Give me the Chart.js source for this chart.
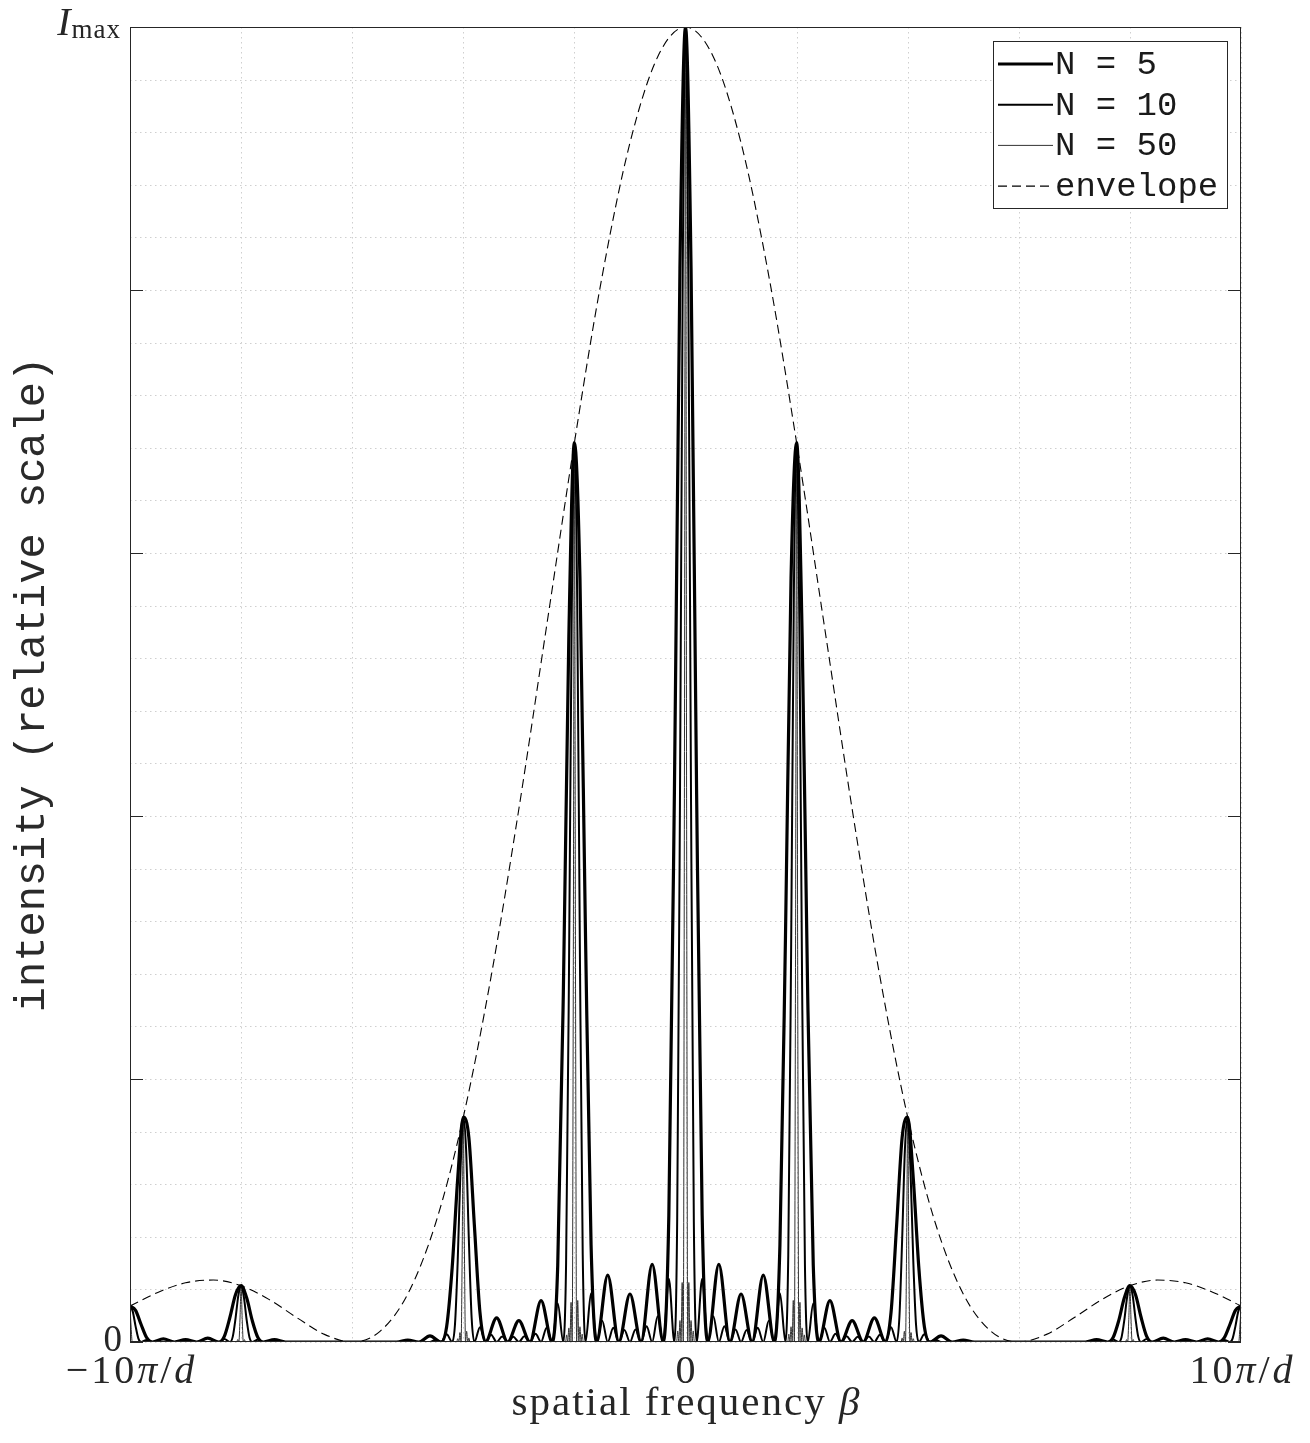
<!DOCTYPE html>
<html>
<head>
<meta charset="utf-8">
<script src="https://cdn.jsdelivr.net/npm/chart.js@4.4.1/dist/chart.umd.min.js"></script>
<style>
  html, body { margin: 0; padding: 0; background: #fff; }
</style>
</head>
<body>
<canvas id="chart" width="1310" height="1443"></canvas>
<script>
// beta in units of pi/d, intensity relative to Imax
const n5 = [
  [-10, 0.0274], [-9.9, 0.0241], [-9.8, 0.0133], [-9.7, 0.0033], [-9.6, 0], [-9.4, 0.0024], [-9.2, 0],
  [-9, 0.0018], [-8.8, 0], [-8.6, 0.0029], [-8.4, 0], [-8.3, 0.0045], [-8.2, 0.019], [-8.1, 0.0361],
  [-8, 0.0428], [-7.9, 0.0336], [-7.8, 0.0164], [-7.7, 0.0036], [-7.6, 0], [-7.4, 0.0018], [-7.2, 0],
  [-5.2, 0], [-5, 0.0015], [-4.8, 0], [-4.6, 0.0047], [-4.4, 0], [-4.3, 0.0116], [-4.2, 0.0567],
  [-4.1, 0.1247], [-4, 0.171], [-3.9, 0.1556], [-3.8, 0.0883], [-3.7, 0.0225], [-3.6, 0], [-3.4, 0.0184],
  [-3.2, 0], [-3, 0.0162], [-2.8, 0], [-2.6, 0.0315], [-2.4, 0], [-2.3, 0.0583], [-2.2, 0.2635],
  [-2.1, 0.5367], [-2, 0.6839], [-1.9, 0.5809], [-1.8, 0.3087], [-1.7, 0.074], [-1.6, 0], [-1.4, 0.0509],
  [-1.2, 0], [-1, 0.0365], [-0.8, 0], [-0.6, 0.0591], [-0.4, 0], [-0.3, 0.0962], [-0.2, 0.4174],
  [-0.1, 0.8165], [0, 1], [0.1, 0.8165], [0.2, 0.4174], [0.3, 0.0962], [0.4, 0], [0.6, 0.0591],
  [0.8, 0], [1, 0.0365], [1.2, 0], [1.4, 0.0509], [1.6, 0], [1.7, 0.074], [1.8, 0.3087], [1.9, 0.5809],
  [2, 0.6839], [2.1, 0.5367], [2.2, 0.2635], [2.3, 0.0583], [2.4, 0], [2.6, 0.0315], [2.8, 0],
  [3, 0.0162], [3.2, 0], [3.4, 0.0184], [3.6, 0], [3.7, 0.0225], [3.8, 0.0883], [3.9, 0.1556],
  [4, 0.171], [4.1, 0.1247], [4.2, 0.0567], [4.3, 0.0116], [4.4, 0], [4.6, 0.0047], [4.8, 0],
  [5, 0.0015], [5.2, 0], [7.2, 0], [7.4, 0.0018], [7.6, 0], [7.7, 0.0036], [7.8, 0.0164], [7.9, 0.0336],
  [8, 0.0428], [8.1, 0.0361], [8.2, 0.019], [8.3, 0.0045], [8.4, 0], [8.6, 0.0029], [8.8, 0],
  [9, 0.0018], [9.2, 0], [9.4, 0.0024], [9.6, 0], [9.7, 0.0033], [9.8, 0.0133], [9.9, 0.0241], [10, 0.0274]
]

const n10 = [
  [-10, 0.0274], [-9.95, 0.0231], [-9.9, 0.0121], [-9.85, 0.0028], [-9.8, 0], [-9.7, 0.0016], [-9.6, 0],
  [-8.4, 0], [-8.3, 0.0022], [-8.2, 0], [-8.15, 0.0041], [-8.1, 0.018], [-8.05, 0.0353], [-8, 0.0428],
  [-7.95, 0.0341], [-7.9, 0.0168], [-7.85, 0.0037], [-7.8, 0], [-7.7, 0.0018], [-7.6, 0],
  [-4.6, 0], [-4.5, 0.0018], [-4.4, 0], [-4.3, 0.0058], [-4.2, 0], [-4.15, 0.0132], [-4.1, 0.0624],
  [-4.05, 0.1313], [-4, 0.171], [-3.95, 0.1467], [-3.9, 0.0778], [-3.85, 0.0184], [-3.8, 0],
  [-3.7, 0.0113], [-3.6, 0], [-3.5, 0.0056], [-3.4, 0], [-3.3, 0.0041], [-3.2, 0], [-3.1, 0.0039],
  [-3, 0], [-2.9, 0.0044], [-2.8, 0], [-2.7, 0.0062], [-2.6, 0], [-2.5, 0.0109], [-2.4, 0],
  [-2.3, 0.0292], [-2.2, 0], [-2.15, 0.059], [-2.1, 0.2683], [-2.05, 0.5445], [-2, 0.6839],
  [-1.95, 0.5664], [-1.9, 0.2904], [-1.85, 0.0664], [-1.8, 0], [-1.7, 0.037], [-1.6, 0],
  [-1.5, 0.0162], [-1.4, 0], [-1.3, 0.0108], [-1.2, 0], [-1.1, 0.0092], [-1, 0], [-0.9, 0.0095],
  [-0.8, 0], [-0.7, 0.012], [-0.6, 0], [-0.5, 0.0195], [-0.4, 0], [-0.3, 0.0481], [-0.2, 0],
  [-0.15, 0.0916], [-0.1, 0.4083], [-0.05, 0.812], [0, 1], [0.05, 0.812], [0.1, 0.4083],
  [0.15, 0.0916], [0.2, 0], [0.3, 0.0481], [0.4, 0], [0.5, 0.0195], [0.6, 0], [0.7, 0.012], [0.8, 0],
  [0.9, 0.0095], [1, 0], [1.1, 0.0092], [1.2, 0], [1.3, 0.0108], [1.4, 0], [1.5, 0.0162], [1.6, 0],
  [1.7, 0.037], [1.8, 0], [1.85, 0.0664], [1.9, 0.2904], [1.95, 0.5664], [2, 0.6839], [2.05, 0.5445],
  [2.1, 0.2683], [2.15, 0.059], [2.2, 0], [2.3, 0.0292], [2.4, 0], [2.5, 0.0109], [2.6, 0],
  [2.7, 0.0062], [2.8, 0], [2.9, 0.0044], [3, 0], [3.1, 0.0039], [3.2, 0], [3.3, 0.0041], [3.4, 0],
  [3.5, 0.0056], [3.6, 0], [3.7, 0.0113], [3.8, 0], [3.85, 0.0184], [3.9, 0.0778], [3.95, 0.1467],
  [4, 0.171], [4.05, 0.1313], [4.1, 0.0624], [4.15, 0.0132], [4.2, 0], [4.3, 0.0058], [4.4, 0],
  [4.5, 0.0018], [4.6, 0], [7.6, 0], [7.7, 0.0018], [7.8, 0], [7.85, 0.0037], [7.9, 0.0168],
  [7.95, 0.0341], [8, 0.0428], [8.05, 0.0353], [8.1, 0.018], [8.15, 0.0041], [8.2, 0], [8.3, 0.0022],
  [8.4, 0], [9.6, 0], [9.7, 0.0016], [9.8, 0], [9.85, 0.0028], [9.9, 0.0121], [9.95, 0.0231], [10, 0.0274]
]

const n50 = [
  [-10, 0.0274], [-9.98, 0.0113], [-9.96, 0], [-8.08, 0], [-8.06, 0.0019], [-8.04, 0], [-8.02, 0.0175],
  [-8, 0.0428], [-7.98, 0.0172], [-7.96, 0], [-7.94, 0.0018], [-7.92, 0],
  [-4.12, 0], [-4.1, 0.0025], [-4.08, 0], [-4.06, 0.0072], [-4.04, 0], [-4.02, 0.0678], [-4, 0.171],
  [-3.98, 0.0709], [-3.96, 0], [-3.94, 0.0082], [-3.92, 0], [-3.9, 0.0031], [-3.88, 0],
  [-2.16, 0], [-2.14, 0.0054], [-2.12, 0], [-2.1, 0.0107], [-2.08, 0], [-2.06, 0.0302], [-2.04, 0],
  [-2.02, 0.2751], [-2, 0.6839], [-1.98, 0.2794], [-1.96, 0], [-1.94, 0.0316], [-1.92, 0],
  [-1.9, 0.0116], [-1.88, 0], [-1.86, 0.006], [-1.84, 0],
  [-0.16, 0], [-0.14, 0.0084], [-0.12, 0], [-0.1, 0.0163], [-0.08, 0], [-0.06, 0.0452], [-0.04, 0],
  [-0.02, 0.4054], [0, 1], [0.02, 0.4054], [0.04, 0], [0.06, 0.0452], [0.08, 0], [0.1, 0.0163],
  [0.12, 0], [0.14, 0.0084], [0.16, 0],
  [1.84, 0], [1.86, 0.006], [1.88, 0], [1.9, 0.0116], [1.92, 0], [1.94, 0.0316], [1.96, 0],
  [1.98, 0.2794], [2, 0.6839], [2.02, 0.2751], [2.04, 0], [2.06, 0.0302], [2.08, 0], [2.1, 0.0107],
  [2.12, 0], [2.14, 0.0054], [2.16, 0],
  [3.88, 0], [3.9, 0.0031], [3.92, 0], [3.94, 0.0082], [3.96, 0], [3.98, 0.0709], [4, 0.171],
  [4.02, 0.0678], [4.04, 0], [4.06, 0.0072], [4.08, 0], [4.1, 0.0025], [4.12, 0],
  [7.92, 0], [7.94, 0.0018], [7.96, 0], [7.98, 0.0172], [8, 0.0428], [8.02, 0.0175], [8.04, 0],
  [8.06, 0.0019], [8.08, 0], [9.96, 0], [9.98, 0.0113], [10, 0.0274]
]

const envelope = [
  [-10, 0.0274], [-9.5, 0.0377], [-9, 0.045], [-8.5, 0.0471], [-8, 0.0428], [-7.5, 0.0324], [-7, 0.0186],
  [-6.5, 0.0058], [-6, 0], [-5.5, 0.0081], [-5, 0.0365], [-4.5, 0.0901], [-4, 0.171], [-3.5, 0.2778],
  [-3, 0.4053], [-2.5, 0.5445], [-2, 0.6839], [-1.5, 0.8106], [-1, 0.9119], [-0.5, 0.9774], [0, 1],
  [0.5, 0.9774], [1, 0.9119], [1.5, 0.8106], [2, 0.6839], [2.5, 0.5445], [3, 0.4053], [3.5, 0.2778],
  [4, 0.171], [4.5, 0.0901], [5, 0.0365], [5.5, 0.0081], [6, 0], [6.5, 0.0058], [7, 0.0186],
  [7.5, 0.0324], [8, 0.0428], [8.5, 0.0471], [9, 0.045], [9.5, 0.0377], [10, 0.0274]
]

const seriesLabels = ['N = 5', 'N = 10', 'N = 50', 'envelope']

const xMajor = [-10, -8, -6, -4, -2, 0, 2, 4, 6, 8, 10]
const yMajor = [0, 0.2, 0.4, 0.6, 0.8, 1]
const yMinor = [0.04, 0.08, 0.12, 0.16, 0.24, 0.28, 0.32, 0.36, 0.44, 0.48, 0.52, 0.56,
  0.64, 0.68, 0.72, 0.76, 0.84, 0.88, 0.92, 0.96]
const xTickValues = [-10, 0, 10]
const xTickText = ['−10π/d', '0', '10π/d']
const yTickValues = [0, 1]
const yTickText = ['0', 'I_max']

const serif = '"Liberation Serif", "DejaVu Serif", serif'
const mono = '"Liberation Mono", "DejaVu Sans Mono", monospace'

const toXY = (pts) => pts.map(([x, y]) => ({ x, y }))

// draw a string char by char, math letters in italic, "_" starts a subscript
function mathText(ctx, str, x, y, size, align, sp = 0) {
  const runs = []
  let sub = false
  for (const ch of str) {
    if (ch === '_') { sub = true; continue }
    const italic = /[πdIβ]/.test(ch) && !sub
    runs.push([ch, (italic ? 'italic ' : '') + (sub ? Math.round(size * 0.68) : size) + 'px ' + serif, sub ? 3 : 0])
  }
  let w = -sp
  runs.forEach((r) => { ctx.font = r[1]; w += ctx.measureText(r[0]).width + sp })
  let cx = align === 'center' ? x - w / 2 : align === 'right' ? x - w : x
  ctx.textAlign = 'left'
  runs.forEach((r) => {
    ctx.font = r[1]
    ctx.fillText(r[0], cx, y + r[2])
    cx += ctx.measureText(r[0]).width + sp
  })
}

const frame = {
  id: 'frame',
  beforeDatasetsDraw(chart) {
    const { ctx, chartArea: a, scales: { x, y } } = chart
    ctx.save()
    ctx.strokeStyle = '#cfcfcf'
    ctx.lineWidth = 1
    ctx.setLineDash([1.5, 3.5])
    ctx.beginPath()
    yMajor.concat(yMinor).forEach((v) => {
      const py = Math.round(y.getPixelForValue(v)) + 0.5
      ctx.moveTo(a.left, py)
      ctx.lineTo(a.right, py)
    })
    xMajor.forEach((v) => {
      const px = Math.round(x.getPixelForValue(v)) + 0.5
      ctx.moveTo(px, a.top)
      ctx.lineTo(px, a.bottom)
    })
    ctx.stroke()
    ctx.restore()
  },
  afterDraw(chart) {
    const { ctx, chartArea: a, scales: { x, y } } = chart
    ctx.save()
    // axes box and inward y ticks
    ctx.strokeStyle = '#262626'
    ctx.lineWidth = 1
    ctx.strokeRect(a.left + 0.5, a.top + 0.5, a.right - a.left - 1, a.bottom - a.top - 1)
    ctx.beginPath()
    yMajor.forEach((v) => {
      const py = Math.round(y.getPixelForValue(v)) + 0.5
      ctx.moveTo(a.left, py); ctx.lineTo(a.left + 13, py)
      ctx.moveTo(a.right, py); ctx.lineTo(a.right - 13, py)
    })
    ctx.stroke()

    // tick labels
    ctx.fillStyle = '#262626'
    ctx.textBaseline = 'alphabetic'
    xTickValues.forEach((v, i) => {
      mathText(ctx, xTickText[i], x.getPixelForValue(v), a.bottom + 41, 40, 'center', 3)
    })
    mathText(ctx, yTickText[0], a.left - 8, y.getPixelForValue(yTickValues[0]) + 9, 37, 'right')
    mathText(ctx, yTickText[1], a.left - 10, y.getPixelForValue(yTickValues[1]) + 8, 40, 'right', 1)

    // axis titles
    mathText(ctx, 'spatial frequency β', (a.left + a.right) / 2, a.bottom + 73, 41, 'center', 2)
    ctx.save()
    ctx.translate(44, (a.top + a.bottom) / 2)
    ctx.rotate(-Math.PI / 2)
    ctx.font = '42px ' + mono
    ctx.fillStyle = '#2a2a2a'
    ctx.textAlign = 'center'
    ctx.fillText('intensity (relative scale)', 0, 0)
    ctx.restore()

    // legend
    const lx = a.right - 248, ly = a.top + 14, lw = 234, lh = 167
    ctx.fillStyle = '#fff'
    ctx.fillRect(lx, ly, lw, lh)
    ctx.strokeStyle = '#262626'
    ctx.lineWidth = 1
    ctx.strokeRect(lx + 0.5, ly + 0.5, lw, lh)
    chart.data.datasets.forEach((ds, i) => {
      const ry = ly + 23 + i * 40.7
      ctx.save()
      ctx.strokeStyle = ds.borderColor
      ctx.lineWidth = ds.borderWidth
      ctx.setLineDash(ds.borderDash || [])
      ctx.beginPath()
      ctx.moveTo(lx + 5, ry)
      ctx.lineTo(lx + 60, ry)
      ctx.stroke()
      ctx.restore()
      ctx.fillStyle = '#1a1a1a'
      ctx.font = '34px ' + mono
      ctx.textAlign = 'left'
      ctx.textBaseline = 'middle'
      ctx.fillText(seriesLabels[i], lx + 62, ry + 1)
    })
    ctx.restore()
  }
}

const lineStyle = { showLine: true, pointRadius: 0, cubicInterpolationMode: 'monotone', fill: false }

new Chart(document.getElementById('chart'), {
  type: 'scatter',
  data: {
    datasets: [
      { ...lineStyle, label: seriesLabels[0], data: toXY(n5), borderColor: '#000', borderWidth: 3.2 },
      { ...lineStyle, label: seriesLabels[1], data: toXY(n10), borderColor: '#000', borderWidth: 2 },
      { ...lineStyle, label: seriesLabels[2], data: toXY(n50), borderColor: '#333', borderWidth: 1 },
      { ...lineStyle, label: seriesLabels[3], data: toXY(envelope), borderColor: '#000', borderWidth: 1.1, borderDash: [9, 5] }
    ]
  },
  options: {
    responsive: false,
    animation: false,
    layout: { padding: { left: 130, right: 69, top: 27, bottom: 101 } },
    plugins: { legend: { display: false }, tooltip: { enabled: false } },
    scales: {
      x: { type: 'linear', min: -10, max: 10, display: false },
      y: { type: 'linear', min: 0, max: 1, display: false }
    }
  },
  plugins: [frame]
})
</script>
</body>
</html>
